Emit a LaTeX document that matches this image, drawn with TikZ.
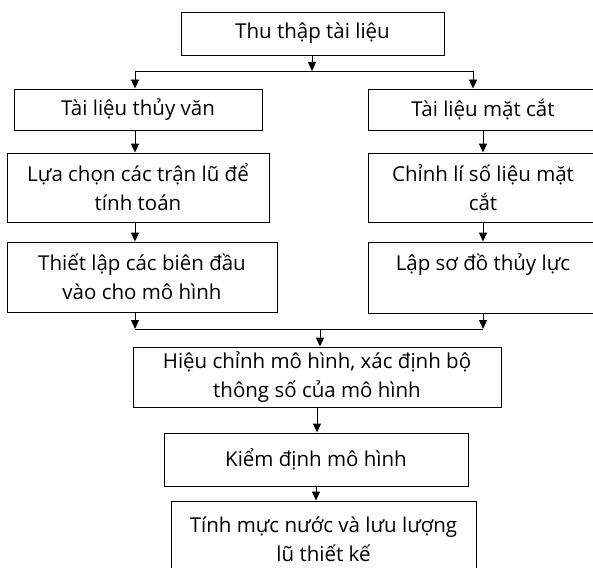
\documentclass[tikz,border=0pt]{standalone}
\usepackage{fontspec}
\newfontfamily\boxfont{Open Sans}
\usetikzlibrary{arrows.meta}
\usetikzlibrary{calc}

\begin{document}
\begin{tikzpicture}[x=1pt,y=-1pt,
    box/.style={draw,rectangle,line width=0.9pt,align=center,inner sep=0pt,
      font=\boxfont\fontsize{20.5}{29}\selectfont},
    link/.style={line width=0.9pt},
    >={Triangle[width=8pt,length=9pt]}]

  \clip (0,0) rectangle (593,567);

  \node [box,minimum width=263pt,minimum height=43pt] (collect) at (312.5,33.5) {Thu thập tài liệu};

  \node [box,minimum width=248pt,minimum height=41pt] (hydro) at (138,109.5) {Tài liệu thủy văn};
  \node [box,minimum width=262pt,minimum height=69pt] (flood) at (138,187.5) {Lựa chọn các trận lũ để\\tính toán};
  \node [box,minimum width=270pt,minimum height=70pt] (bound) at (142,277) {Thiết lập các biên đầu\\vào cho mô hình};

  \node [box,minimum width=230pt,minimum height=41pt] (section) at (483,109.5) {Tài liệu mặt cắt};
  \node [box,minimum width=230pt,minimum height=69pt] (fixdata) at (483,187.5) {Chỉnh lí số liệu mặt\\cắt};
  \node [box,minimum width=230pt,minimum height=71pt,text depth=30pt] (scheme) at (483,277.5) {Lập sơ đồ thủy lực};

  \node [box,minimum width=368pt,minimum height=60pt] (calib) at (317,377) {Hiệu chỉnh mô hình, xác định bộ\\thông số của mô hình};
  \node [box,minimum width=304pt,minimum height=53pt] (verify) at (316,459.5) {Kiểm định mô hình};
  \node [box,minimum width=305pt,minimum height=76pt] (design) at (323.5,539) {Tính mực nước và lưu lượng\\lũ thiết kế};

  \coordinate (split) at (312,71);
  \coordinate (lsplit) at (135,71);
  \coordinate (rsplit) at (473,71);
  \coordinate (lmerge) at (135,329);
  \coordinate (rmerge) at (483,329);
  \coordinate (merge) at (320,329);

  \draw [link,->] (collect.south -| split) -- (split);
  \draw [link] (lsplit) -- (rsplit);
  \draw [link,->] (lsplit) -- (lsplit |- hydro.north);
  \draw [link,->] (rsplit) -- (rsplit |- section.north);

  \draw [link,->] (hydro.south -| lsplit) -- (flood.north -| lsplit);
  \draw [link,->] (flood.south -| lsplit) -- (bound.north -| lsplit);
  \draw [link,->] (section.south) -- (fixdata.north);
  \draw [link,->] (fixdata.south) -- (scheme.north);

  \draw [link,->] (bound.south -| lmerge) -- (lmerge);
  \draw [link,->] (scheme.south -| rmerge) -- (rmerge);
  \draw [link] (lmerge) -- (rmerge);
  \draw [link,->] (merge) -- (merge |- calib.north);

  \draw [link,->] (calib.south) -- (calib.south |- verify.north);
  \draw [link,->] (verify.south) -- (verify.south |- design.north);

\end{tikzpicture}
\end{document}
